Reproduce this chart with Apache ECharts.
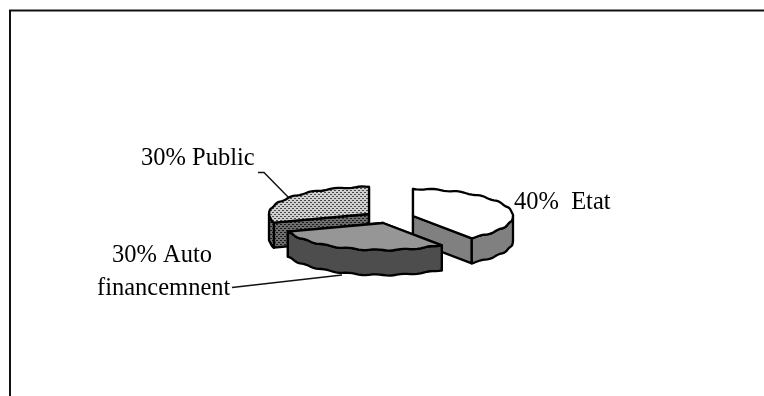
<!DOCTYPE html>
<html lang="en">
<head>
    <meta charset="utf-8">
    <title>Financement</title>
    <script src="https://cdn.jsdelivr.net/npm/echarts@6/dist/echarts.min.js"></script>
    <style>html,body{margin:0;padding:0;background:#fff}</style>
</head>
<body>
<div id="main" style="width:764px;height:396px;"></div>

<script type="text/javascript">
// data
var sliceNames = ['Etat', 'Auto financement', 'Public'];
var sliceShares = [40, 30, 30];
var labelLines = [['40%  Etat'], ['30% Auto', 'financemnent'], ['30% Public']];

// look of the exploded slices, drawn back to front below
var centers = [[413, 216], [383, 223], [369, 214]];
var topFills = ['#ffffff', '#969696', 'dots-light'];
var sideFills = ['#808080', '#4d4d4d', 'dots-dark'];
var drawOrder = [2, 0, 1];
var RX = 100, RY = 27, DEPTH = 25;

function dotPattern(bg, fg) {
    var c = document.createElement('canvas');
    c.width = 4; c.height = 4;
    var g = c.getContext('2d');
    g.fillStyle = bg; g.fillRect(0, 0, 4, 4);
    g.fillStyle = fg;
    g.fillRect(0, 0, 2, 1); g.fillRect(2, 2, 2, 1);
    return { image: c, repeat: 'repeat' };
}
var fills = {
    'dots-light': dotPattern('#cfcfcf', '#4a4a4a'),
    'dots-dark': dotPattern('#6e6e6e', '#1a1a1a')
};
function fillOf(name) { return fills[name] || name; }

// angle in degrees, clockwise from 12 o'clock; slight vertical wobble like the source's coarse outline
function rimPoint(c, deg, drop) {
    var a = deg * Math.PI / 180;
    return [c[0] + RX * Math.sin(a), c[1] - RY * Math.cos(a) + 0.6 * Math.sin(a * 23) + (drop || 0)];
}
function arcPoints(c, from, to, drop) {
    var pts = [], n = Math.max(2, Math.round(Math.abs(to - from) / 2));
    for (var i = 0; i <= n; i++) pts.push(rimPoint(c, from + (to - from) * i / n, drop));
    return pts;
}
function poly(points, fill) {
    return { type: 'polygon', shape: { points: points },
        style: { fill: fill, stroke: '#000', lineWidth: 2.3, lineJoin: 'round' } };
}

var starts = [], total = sliceShares.reduce(function (a, b) { return a + b; }, 0), run = 0;
sliceShares.forEach(function (v) { starts.push(run); run += v; });

function renderSlice(params, api) {
    var idx = api.value(0);
    var c = centers[idx];
    var a0 = starts[idx] / total * 360;
    var a1 = (starts[idx] + sliceShares[idx]) / total * 360;
    var kids = [];
    var bottom = [c[0], c[1] + DEPTH];

    // straight cut faces
    [a0, a1].forEach(function (a) {
        var r = rimPoint(c, a);
        kids.push(poly([c, r, [r[0], r[1] + DEPTH], bottom], fillOf(sideFills[idx])));
    });
    // outer wall: only the part of the rim that faces the viewer
    var w0 = Math.max(a0, 90), w1 = Math.min(a1, 270);
    if (w1 > w0) {
        var upper = arcPoints(c, w0, w1, 0);
        var lower = arcPoints(c, w1, w0, DEPTH);
        kids.push(poly(upper.concat(lower), fillOf(sideFills[idx])));
    }
    // top face
    kids.push(poly([c].concat(arcPoints(c, a0, a1, 0)), fillOf(topFills[idx])));
    return { type: 'group', children: kids };
}

var serif = '"Liberation Serif", "Times New Roman", serif';
function txt(x, baseline, s) {
    return { type: 'text', x: x, y: baseline - 19.5, style: { text: s, font: '24.5px ' + serif, fill: '#000' } };
}
function line(pts, w) {
    return { type: 'polyline', shape: { points: pts }, style: { stroke: '#111', lineWidth: w, fill: null } };
}

var myChart = echarts.init(document.getElementById('main'), null, { renderer: 'canvas' });
myChart.setOption({
    animation: false,
    series: [{
        type: 'custom',
        coordinateSystem: 'none',
        clip: false,
        data: drawOrder.map(function (i) { return { name: sliceNames[i], value: [i, sliceShares[i]] }; }),
        renderItem: renderSlice
    }],
    graphic: [
        line([[10, 396], [10, 10.5], [764, 10.5]], 2),
        line([[258, 172.5], [264, 172.5], [290, 199]], 1.4),
        line([[232, 287.5], [342, 275]], 1.4),
        txt(514, 210, labelLines[0][0]),
        txt(112, 263, labelLines[1][0]),
        txt(97, 296, labelLines[1][1]),
        txt(141, 166, labelLines[2][0])
    ]
});
</script>
</body>
</html>
